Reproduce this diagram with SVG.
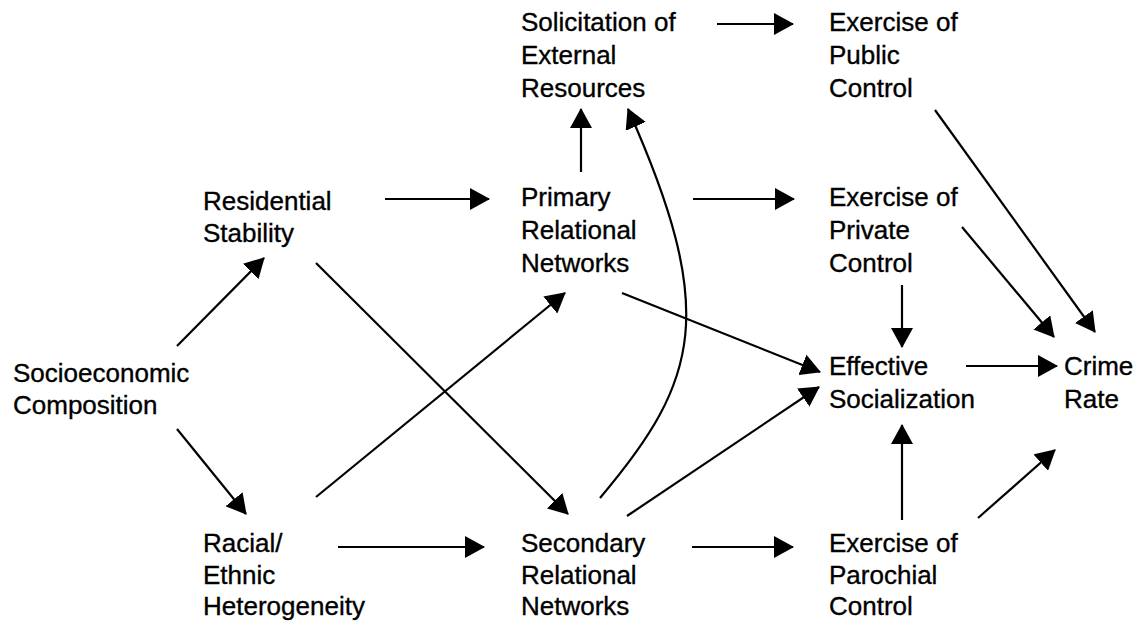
<svg xmlns="http://www.w3.org/2000/svg" width="1144" height="624" viewBox="0 0 1144 624">
  <defs>
    <marker id="head" viewBox="0 0 20 22" refX="19" refY="11" markerWidth="20" markerHeight="22" markerUnits="userSpaceOnUse" orient="auto">
      <path d="M0,0 L20,11 L0,22 z" fill="#000"/>
    </marker>
    <style>
      .lbl { font-family: "Liberation Sans", Arial, Helvetica, sans-serif; font-size: 26px; fill: #000; stroke: #000; stroke-width: 0.35; }
      .edge { fill: none; stroke: #000; stroke-width: 2.2; marker-end: url(#head); }
    </style>
  </defs>
  <rect width="1144" height="624" fill="#fff"/>

  <!-- connectors -->
  <g id="connectors">
    <line class="edge" x1="177" y1="346" x2="264" y2="258"/>
    <line class="edge" x1="177" y1="429" x2="246" y2="514"/>
    <line class="edge" x1="385" y1="199" x2="489" y2="199"/>
    <line class="edge" x1="316" y1="263" x2="568" y2="514"/>
    <line class="edge" x1="316" y1="497" x2="565" y2="293"/>
    <line class="edge" x1="338" y1="547" x2="484" y2="547"/>
    <line class="edge" x1="581" y1="172" x2="581" y2="109"/>
    <path class="edge" d="M600,498 C700,380 718,311 628,109"/>
    <line class="edge" x1="717" y1="24" x2="793" y2="24"/>
    <line class="edge" x1="693" y1="199" x2="794" y2="199"/>
    <line class="edge" x1="622" y1="293" x2="820" y2="372"/>
    <line class="edge" x1="627" y1="516" x2="819" y2="387"/>
    <line class="edge" x1="692" y1="547" x2="793" y2="547"/>
    <line class="edge" x1="902" y1="285" x2="902" y2="347"/>
    <line class="edge" x1="902" y1="520" x2="902" y2="425"/>
    <line class="edge" x1="966" y1="366" x2="1057" y2="366"/>
    <line class="edge" x1="935" y1="110" x2="1095" y2="332"/>
    <line class="edge" x1="962" y1="227" x2="1054" y2="337"/>
    <line class="edge" x1="978" y1="518" x2="1055" y2="450"/>
  </g>

  <!-- nodes -->
  <g id="socioeconomic">
    <text class="lbl" x="13" y="382">Socioeconomic</text>
    <text class="lbl" x="13" y="414">Composition</text>
  </g>
  <g id="residential">
    <text class="lbl" x="203" y="210">Residential</text>
    <text class="lbl" x="203" y="242">Stability</text>
  </g>
  <g id="racial">
    <text class="lbl" x="203" y="552">Racial/</text>
    <text class="lbl" x="203" y="584">Ethnic</text>
    <text class="lbl" x="203" y="615">Heterogeneity</text>
  </g>
  <g id="solicitation">
    <text class="lbl" x="521" y="31">Solicitation of</text>
    <text class="lbl" x="521" y="64">External</text>
    <text class="lbl" x="521" y="97">Resources</text>
  </g>
  <g id="primary">
    <text class="lbl" x="521" y="206">Primary</text>
    <text class="lbl" x="521" y="239">Relational</text>
    <text class="lbl" x="521" y="272">Networks</text>
  </g>
  <g id="secondary">
    <text class="lbl" x="521" y="552">Secondary</text>
    <text class="lbl" x="521" y="584">Relational</text>
    <text class="lbl" x="521" y="615">Networks</text>
  </g>
  <g id="public">
    <text class="lbl" x="829" y="31">Exercise of</text>
    <text class="lbl" x="829" y="64">Public</text>
    <text class="lbl" x="829" y="97">Control</text>
  </g>
  <g id="private">
    <text class="lbl" x="829" y="206">Exercise of</text>
    <text class="lbl" x="829" y="239">Private</text>
    <text class="lbl" x="829" y="272">Control</text>
  </g>
  <g id="socialization">
    <text class="lbl" x="829" y="375">Effective</text>
    <text class="lbl" x="829" y="408">Socialization</text>
  </g>
  <g id="parochial">
    <text class="lbl" x="829" y="552">Exercise of</text>
    <text class="lbl" x="829" y="584">Parochial</text>
    <text class="lbl" x="829" y="615">Control</text>
  </g>
  <g id="crime">
    <text class="lbl" x="1064" y="375">Crime</text>
    <text class="lbl" x="1064" y="408">Rate</text>
  </g>
</svg>
